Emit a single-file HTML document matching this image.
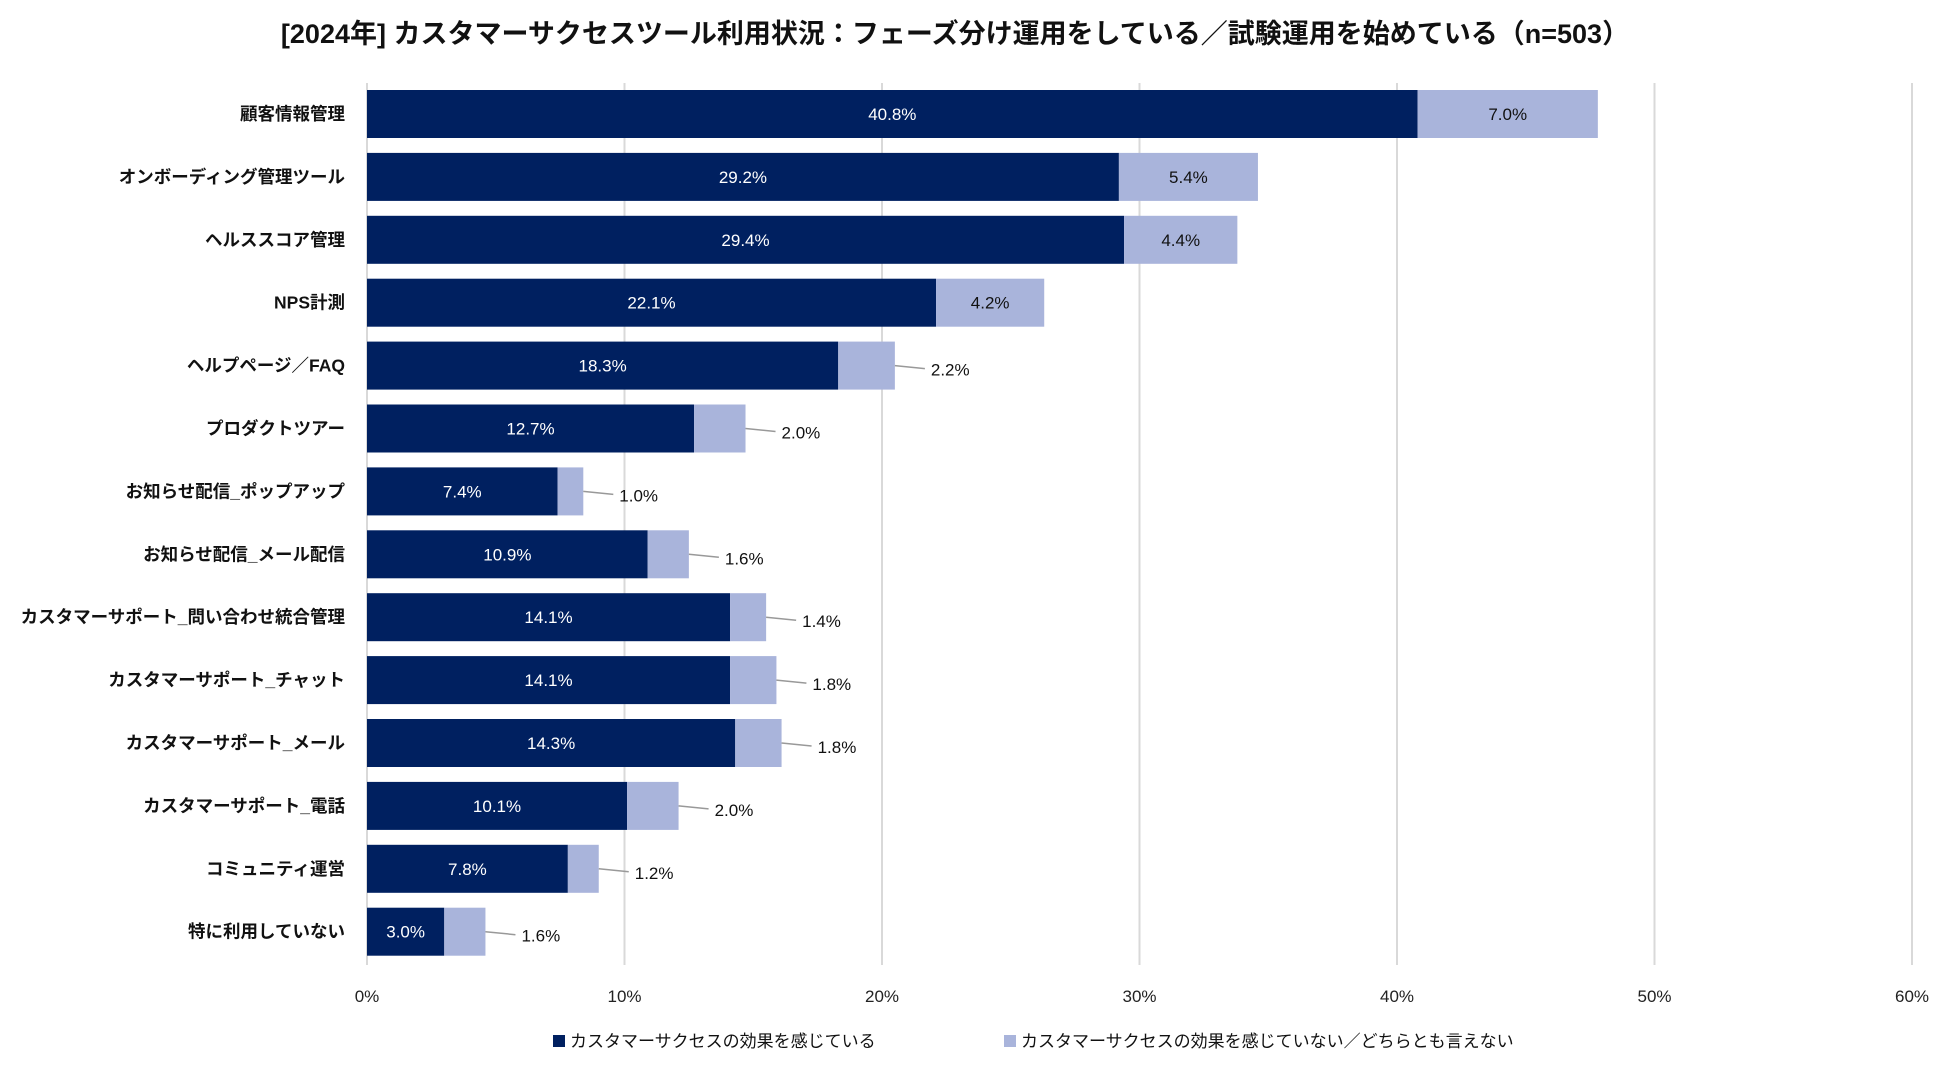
<!DOCTYPE html>
<html><head><meta charset="utf-8"><style>
body{margin:0;background:#fff;}
svg{display:block;font-family:"Liberation Sans","Noto Sans CJK JP",sans-serif;}
</style></head><body>
<svg id="chart" width="1950" height="1070">
<text x="955" y="43" text-anchor="middle" font-size="27" font-weight="bold" fill="#111">[2024年] カスタマーサクセスツール利用状況：フェーズ分け運用をしている／試験運用を始めている（n=503）</text>
<g id="grid"></g><g id="bars"></g><g id="labels"></g><g id="ticks"></g>
<g>
<rect x="553" y="1035" width="12" height="12" fill="#002060"/>
<text x="570" y="1047" font-size="17" fill="#111">カスタマーサクセスの効果を感じている</text>
<rect x="1004" y="1035" width="12" height="12" fill="#a9b4db"/>
<text x="1021" y="1047" font-size="17" fill="#111">カスタマーサクセスの効果を感じていない／どちらとも言えない</text>
</g>
</svg>
<script>
const categories=["顧客情報管理","オンボーディング管理ツール","ヘルススコア管理","NPS計測","ヘルプページ／FAQ","プロダクトツアー","お知らせ配信_ポップアップ","お知らせ配信_メール配信","カスタマーサポート_問い合わせ統合管理","カスタマーサポート_チャット","カスタマーサポート_メール","カスタマーサポート_電話","コミュニティ運営","特に利用していない"];
const effective=[40.8,29.2,29.4,22.1,18.3,12.7,7.4,10.9,14.1,14.1,14.3,10.1,7.8,3.0];
const notEffective=[7.0,5.4,4.4,4.2,2.2,2.0,1.0,1.6,1.4,1.8,1.8,2.0,1.2,1.6];
const tickValues=[0,10,20,30,40,50,60];
const NS="http://www.w3.org/2000/svg";
const x0=367,pxPer=25.75,yTop=90,step=62.9,bh=48;
const xs=v=>x0+v*pxPer;
const ys=i=>yTop+i*step;
function mk(tag,attrs,parent,text){const e=document.createElementNS(NS,tag);for(const k in attrs)e.setAttribute(k,attrs[k]);if(text!==undefined)e.textContent=text;document.getElementById(parent).appendChild(e);return e;}
tickValues.forEach(t=>{
 const g=mk('line',{x1:xs(t),x2:xs(t),y1:83,y2:965,stroke:'#d9d9d9','stroke-width':2},'grid');
 
 
 const tx=mk('text',{x:xs(t),y:1002,'text-anchor':'middle','font-size':17,fill:'#222'},'ticks',t+'%');
 
 
});
categories.forEach((c,i)=>{
 const y=ys(i),cy=y+bh/2;
 const l=mk('text',{x:345,y:cy+6,'text-anchor':'end','font-size':17.5,'font-weight':'bold',fill:'#111'},'labels',c);
 
 
 const a=effective[i],b=notEffective[i];
 const r1=mk('rect',{x:xs(0),y:y,width:xs(a)-xs(0),height:bh,fill:'#002060'},'bars');
 
 
 const r2=mk('rect',{x:xs(a),y:y,width:xs(a+b)-xs(a),height:bh,fill:'#a9b4db'},'bars');
 
 
 const t1=mk('text',{x:(xs(0)+xs(a))/2,y:cy+6,'text-anchor':'middle','font-size':17,fill:'#fff'},'bars',a.toFixed(1)+'%');
 
 
 let t2;
 if(b>=4){
  t2=mk('text',{x:(xs(a)+xs(a+b))/2,y:cy+6,'text-anchor':'middle','font-size':17,fill:'#111'},'bars',b.toFixed(1)+'%');
 }else{
  const ex=xs(a+b);
  const ln=mk('line',{x1:ex,y1:cy,x2:ex+30,y2:cy+3,stroke:'#999','stroke-width':1.5},'bars');
  
  
  t2=mk('text',{x:ex+36,y:cy+10,'font-size':17,fill:'#111'},'bars',b.toFixed(1)+'%');
 }
 
 
});
</script>
</body></html>
